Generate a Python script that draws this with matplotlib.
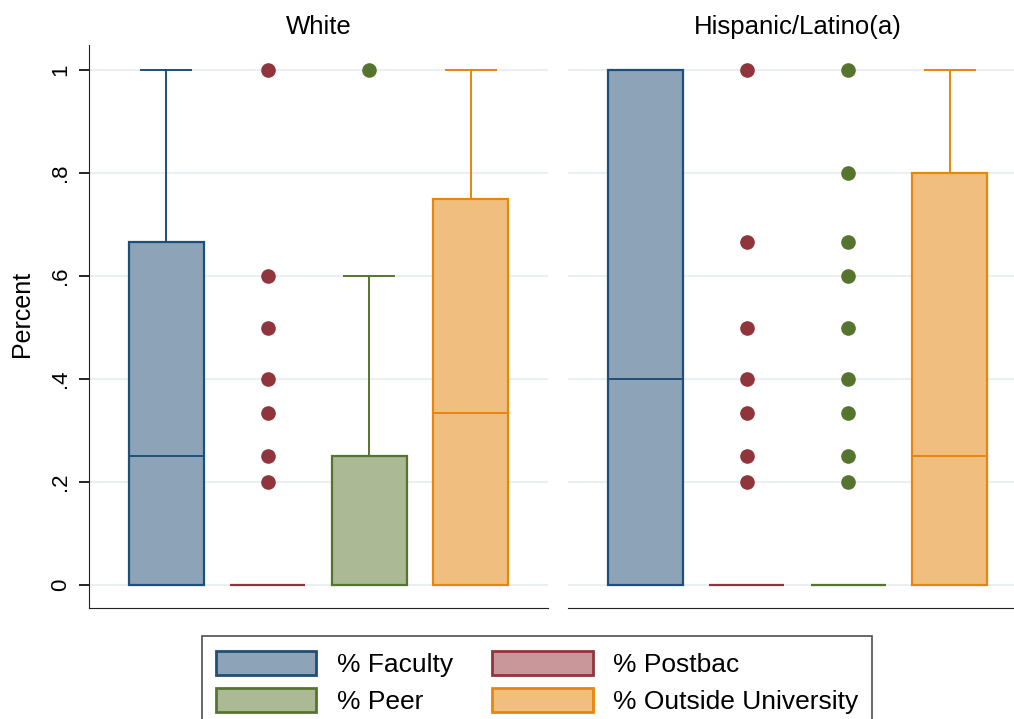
import matplotlib.pyplot as plt
from matplotlib.patches import Patch

plt.rcParams['font.family'] = ['Liberation Sans', 'DejaVu Sans']

# --- data
groups = ['White', 'Hispanic/Latino(a)']
series = ['% Faculty', '% Postbac', '% Peer', '% Outside University']
edge_cols = ['#1f4e79', '#90353b', '#55752f', '#e8850c']
fill_cols = ['#8da4b8', '#c9979a', '#abba95', '#f0bf80']

# (whislo, q1, med, q3, whishi) per series
white_box = [(0, 0, .25, .667, 1), (0, 0, 0, 0, 0), (0, 0, 0, .25, .6), (0, 0, .333, .75, 1)]
white_out = [[], [1, .6, .5, .4, .333, .25, .2], [1], []]
hisp_box = [(0, 0, .4, 1, 1), (0, 0, 0, 0, 0), (0, 0, 0, 0, 0), (0, 0, .25, .8, 1)]
hisp_out = [[], [1, .667, .5, .4, .333, .25, .2], [1, .8, .667, .6, .5, .4, .333, .25, .2], []]

yticks = [0, .2, .4, .6, .8, 1]
yticklabels = ['0', '.2', '.4', '.6', '.8', '1']


def draw_panel(ax, boxes, outs, title):
	for i, (b, o) in enumerate(zip(boxes, outs)):
		st = dict(whislo=b[0], q1=b[1], med=b[2], q3=b[3], whishi=b[4], fliers=o)
		ec, fc = edge_cols[i], fill_cols[i]
		ax.bxp([st], positions=[i + 1], widths=0.74, capwidths=0.49, patch_artist=True,
			boxprops=dict(facecolor=fc, edgecolor=ec, linewidth=1.6),
			medianprops=dict(color=ec, linewidth=1.4),
			whiskerprops=dict(color=ec, linewidth=1.4),
			capprops=dict(color=ec, linewidth=1.4),
			flierprops=dict(marker='o', markerfacecolor=ec, markeredgecolor=ec, markersize=9.5))
	ax.set_xlim(0.24, 4.76)
	ax.set_ylim(-0.045, 1.049)
	ax.set_yticks(yticks)
	ax.grid(axis='y', color='#eaf0f1', linewidth=1.5)
	ax.set_axisbelow(True)
	ax.set_xticks([])
	for s in ['top', 'right']:
		ax.spines[s].set_visible(False)
	ax.spines['bottom'].set_color('#222222')
	ax.spines['left'].set_color('#222222')
	ax.set_title(title, fontsize=18.5, pad=8)


fig = plt.figure(figsize=(10.14, 7.19), dpi=100)
ax1 = fig.add_axes([0.0878, 0.1544, 0.4527, 0.783])
ax2 = fig.add_axes([0.5602, 0.1544, 0.4527, 0.783])

draw_panel(ax1, white_box, white_out, groups[0])
draw_panel(ax2, hisp_box, hisp_out, groups[1])

ax1.set_yticklabels(yticklabels, rotation=90, va='center', fontsize=16)
ax1.tick_params(axis='y', length=7, width=1.2, pad=6)
ax2.spines['left'].set_visible(False)
ax2.tick_params(axis='y', left=False, labelleft=False)

fig.text(0.022, 0.563, 'Percent', rotation=90, va='center', ha='center', fontsize=18)

handles = [Patch(facecolor=f, edgecolor=e, linewidth=2) for f, e in zip(fill_cols, edge_cols)]
order = [0, 2, 1, 3]
leg = fig.legend([handles[k] for k in order], [series[k] for k in order], ncol=2,
	loc='upper center', bbox_to_anchor=(0.5296, 0.1154), borderaxespad=0, fontsize=19,
	handlelength=3.8, handleheight=1.05, handletextpad=0.76, columnspacing=1.5,
	labelspacing=0.42, borderpad=0.55, frameon=True, fancybox=False)
leg.get_frame().set_edgecolor('#222222')
leg.get_frame().set_linewidth(1.2)

plt.savefig('out.png', dpi=100)
